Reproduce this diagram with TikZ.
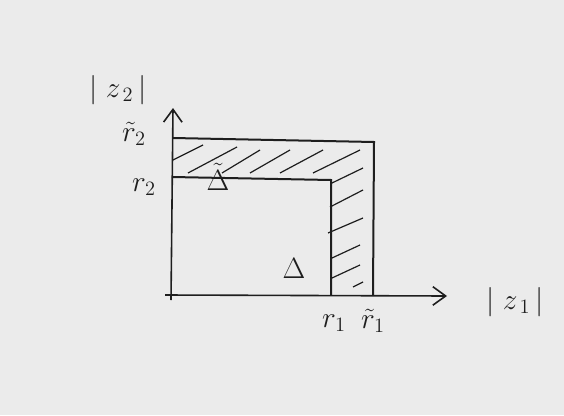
\documentclass[tikz,border=0pt]{standalone}
\usepackage{tikz}
\usetikzlibrary{arrows.meta}
\definecolor{papel}{HTML}{EBEBEB}
\definecolor{tinta}{HTML}{1E1E1E}
\newcommand{\grafia}[1]{\scalebox{1.7}{\LARGE$#1$}}
\tikzset{
  eixo/.style={draw=tinta,line width=1.6pt,-{Straight Barb[length=4.5mm,width=6.5mm,line width=1.6pt]}},
  borda/.style={draw=tinta,line width=2pt},
  hach/.style={draw=tinta,line width=1.2pt},
  rot/.style={text=tinta,inner sep=0pt},
}
\begin{document}
\begin{tikzpicture}[x=1pt,y=-1pt]
  \fill[papel] (0,0) rectangle (564,415);
  \useasboundingbox (0,0) rectangle (564,415);
  % --- eixos
  \coordinate (O) at (171,295);
  \coordinate (ybaixo) at (171,300);
  \coordinate (ytopo) at (173,108);
  \coordinate (xesq) at (165,295);
  \coordinate (xfim) at (447,296);
  \draw[eixo] (ybaixo) -- (ytopo);
  \draw[eixo] (xesq) -- (xfim);
  % --- polidisco externo e interno
  \coordinate (ext1) at (173,138);
  \coordinate (ext2) at (374,142);
  \coordinate (ext3) at (373,295);
  \coordinate (int1) at (172,177);
  \coordinate (int2) at (331,180);
  \coordinate (int3) at (331,295);
  \draw[borda] (ext1) -- (ext2) -- (ext3);
  \draw[borda] (int1) -- (int2) -- (int3);
  % hachura da coroa
  \foreach \xa/\ya/\xb/\yb in {173/160/203/145, 188/173/237/147, 222/173/260/150,
      250/173/290/150, 280/173/323/150, 313/173/360/150, 332/183/363/168,
      330/207/363/190, 328/233/363/218, 332/258/360/245, 332/278/360/265,
      353/287/363/282}
    \draw[hach] (\xa,\ya) -- (\xb,\yb);
  % --- rotulos
  \node[rot] (z2) at (118,90) {\grafia{|\;z_{\,2}\,|}};
  \node[rot] (z1) at (515,302) {\grafia{|\;z_{\,1}\,|}};
  \node[rot] (rt2) at (134,134) {\grafia{\tilde r_2}};
  \node[rot] (r2) at (144,187) {\grafia{r_2}};
  \node[rot] (r1) at (334,323) {\grafia{r_1}};
  \node[rot] (rt1) at (373,321) {\grafia{\tilde r_1}};
  \node[rot] (dt) at (218,177) {\grafia{\tilde\Delta}};
  \node[rot] (d) at (294,268) {\grafia{\Delta}};
\end{tikzpicture}
\end{document}
